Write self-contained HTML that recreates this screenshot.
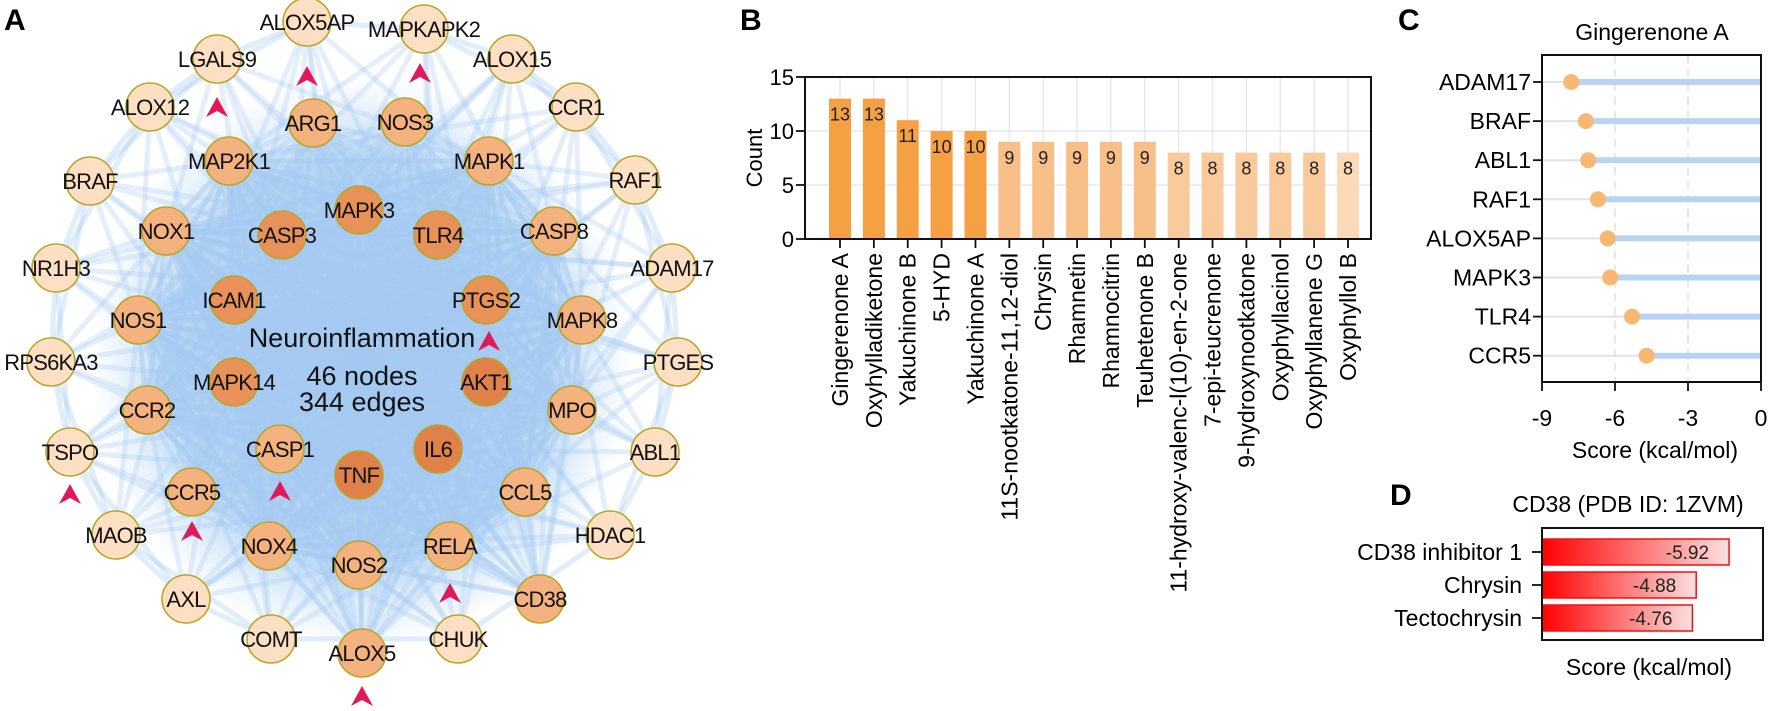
<!DOCTYPE html>
<html><head><meta charset="utf-8"><style>
body{margin:0;background:#fff}
svg{display:block;font-family:"Liberation Sans",Arial,sans-serif}
</style></head><body>
<svg id="fig" width="1772" height="711" viewBox="0 0 1772 711" xmlns="http://www.w3.org/2000/svg">
<defs>
<radialGradient id="blob" cx="50%" cy="50%" r="50%">
<stop offset="0%" stop-color="#a0c8f1" stop-opacity="1"/>
<stop offset="70%" stop-color="#abd0f3" stop-opacity="0.85"/>
<stop offset="100%" stop-color="#c2dcf6" stop-opacity="0"/>
</radialGradient>
<linearGradient id="redgrad" x1="0" x2="1" y1="0" y2="0">
<stop offset="0%" stop-color="#ff0000"/>
<stop offset="100%" stop-color="#fbe0e0"/>
</linearGradient>
</defs>
<g id="panelA">
<text x="4" y="30" font-size="30" font-weight="bold">A</text>
<ellipse cx="362" cy="362" rx="270" ry="285" fill="url(#blob)"/>
<g id="edges"></g>
<g id="nodes"></g>
<g id="arrows"></g>
<text x="362" y="347" font-size="27" text-anchor="middle" fill="#111">Neuroinflammation</text>
<text x="362" y="385" font-size="27" text-anchor="middle" fill="#111">46 nodes</text>
<text x="362" y="411" font-size="27" text-anchor="middle" fill="#111">344 edges</text>
</g>
<g id="panelB">
<text x="740" y="30" font-size="30" font-weight="bold">B</text>
<text transform="translate(762,158) rotate(-90)" font-size="22" text-anchor="middle">Count</text>
</g>
<g id="panelC">
<text x="1398" y="30" font-size="30" font-weight="bold">C</text>
<text x="1652" y="40" font-size="23" text-anchor="middle">Gingerenone A</text>
<text x="1655" y="458" font-size="23" text-anchor="middle">Score (kcal/mol)</text>
</g>
<g id="panelD">
<text x="1390" y="505" font-size="30" font-weight="bold">D</text>
<text x="1628" y="512" font-size="23" text-anchor="middle">CD38 (PDB ID: 1ZVM)</text>
<text x="1649" y="675" font-size="23" text-anchor="middle">Score (kcal/mol)</text>
</g>
</svg>
<script>
const NS="http://www.w3.org/2000/svg";
function mk(tag,attrs,parent,txt){const e=document.createElementNS(NS,tag);for(const k in attrs)e.setAttribute(k,attrs[k]);if(txt!==undefined)e.textContent=txt;parent.appendChild(e);return e;}

// ---------- Panel B data ----------
const compounds=["Gingerenone A","Oxyhylladiketone","Yakuchinone B","5-HYD","Yakuchinone A","11S-nootkatone-11,12-diol","Chrysin","Rhamnetin","Rhamnocitrin","Teuhetenone B","11-hydroxy-valenc-l(10)-en-2-one","7-epi-teucrenone","9-hydroxynootkatone","Oxyphyllacinol","Oxyphyllanene G","Oxyphyllol B"];
const counts=[13,13,11,10,10,9,9,9,9,9,8,8,8,8,8,8];
const countTicks=[0,5,10,15];

// ---------- Panel C data ----------
const targets=["ADAM17","BRAF","ABL1","RAF1","ALOX5AP","MAPK3","TLR4","CCR5"];
const scores=[-7.8,-7.2,-7.1,-6.7,-6.3,-6.2,-5.3,-4.7];
const scoreTicks=[-9,-6,-3,0];

// ---------- Panel D data ----------
const ligands=["CD38 inhibitor 1","Chrysin","Tectochrysin"];
const ligandScores=[-5.92,-4.88,-4.76];

// ---------- Network ----------
const nodeNames=["ALOX5AP","MAPKAPK2","LGALS9","ALOX15","ALOX12","ARG1","NOS3","CCR1","MAP2K1","MAPK1","BRAF","RAF1","NOX1","MAPK3","CASP3","TLR4","CASP8","NR1H3","ICAM1","PTGS2","ADAM17","NOS1","MAPK8","RPS6KA3","MAPK14","AKT1","PTGES","CCR2","MPO","CASP1","IL6","TNF","ABL1","TSPO","CCR5","CCL5","HDAC1","MAOB","NOX4","NOS2","RELA","CD38","AXL","COMT","ALOX5","CHUK"];
const nodeX=[307,424,217,512,150,313,405,576,229,489,90,635,166,359,282,438,554,56,234,486,672,138,582,51,234,486,678,147,572,280,438,359,655,70,192,525,610,116,269,359,450,540,186,271,362,458];
const nodeY=[22,29,59,59,107,123,122,107,161,161,181,180,231,210,235,235,231,268,300,300,268,320,320,362,382,382,362,410,410,449,449,475,452,452,492,492,535,535,546,565,546,599,599,639,653,639];
const nodeLevel=[0,0,0,0,0,1,1,0,1,1,0,0,1,2,2,2,1,0,2,2,0,1,1,0,2,3,0,1,1,1,3,3,0,0,1,1,0,0,1,1,1,1,0,0,1,0];
const hubs=[13,14,15,18,19,24,25,29,30,31,9,8,39,40,22,16,12,21,27,28,35,38];
const arrowX=[307,420,217,489,70,280,192,450,362];
const arrowY=[66,63,97,331,484,481,521,583,686];

const eg=document.getElementById('edges');
for(let i=0;i<nodeNames.length;i++){
  for(let h=0;h<hubs.length;h++){
    const j=hubs[h]; if(j===i) continue;
    if(nodeLevel[i]===0 && (i+h)%3!==0) continue;
    const l=mk('line',{x1:nodeX[i],y1:nodeY[i],x2:nodeX[j],y2:nodeY[j],stroke:'#a6cbf1','stroke-width':5,'stroke-opacity':0.3},eg);
    
    
  }
}
for(let i=0;i<nodeNames.length;i++){
  if(nodeLevel[i]!==0) continue;
  for(let k=i+1;k<nodeNames.length;k++){
    if(nodeLevel[k]!==0) continue;
    const d=Math.hypot(nodeX[i]-nodeX[k],nodeY[i]-nodeY[k]);
    if(d<200){const l=mk('line',{x1:nodeX[i],y1:nodeY[i],x2:nodeX[k],y2:nodeY[k],stroke:'#a6cbf1','stroke-width':5,'stroke-opacity':0.35},eg);
    
    }
  }
}
const fills=['#fddfc4','#f4b27f','#e8925a','#e0814a'];
const ng=document.getElementById('nodes');
for(let i=0;i<nodeNames.length;i++){
  const g=mk('g',{},ng);
  
  
  mk('circle',{cx:nodeX[i],cy:nodeY[i],r:24,fill:fills[nodeLevel[i]],stroke:'#b8a62a','stroke-width':1.6},g);
  mk('text',{x:nodeX[i],y:nodeY[i]+8,'font-size':22,'text-anchor':'middle',fill:'#111','letter-spacing':'-0.8'},g,nodeNames[i]);
}
const ag=document.getElementById('arrows');
for(let i=0;i<arrowX.length;i++){
  const x=arrowX[i],y=arrowY[i];
  const p=mk('path',{d:`M${x},${y} L${x+11},${y+20} L${x},${y+14} L${x-11},${y+20} Z`,fill:'#e0195a'},ag);
  
  
}

// ---------- Panel B draw ----------
(function(){
  const pg=document.getElementById('panelB');
  const L=805,R=1371,T=77,B=239,ymax=15,padL=35,padR=23;
  const y=v=>B-(v/ymax)*(B-T);
  const n=compounds.length;
  const step=(R-L-padL-padR)/(n-1);
  const x=i=>L+padL+step*i;
  for(const t of countTicks){
    if(t>0&&t<15){const g=mk('line',{x1:L,x2:R,y1:y(t),y2:y(t),stroke:'#e4e4ea','stroke-width':1.2},pg);}
    const tk=mk('line',{x1:L-9,x2:L,y1:y(t),y2:y(t),stroke:'#111','stroke-width':1.8},pg);
    
    
    const tl=mk('text',{x:L-11,y:y(t)+8,'font-size':22,'text-anchor':'end'},pg,String(t));
    
    
  }
  for(let i=0;i<n;i++){
    const gl=mk('line',{x1:x(i),x2:x(i),y1:T,y2:B,stroke:'#e4e4ea','stroke-width':1.2},pg);
    
    
  }
  for(let i=0;i<n;i++){
    const v=counts[i];
    const col=v>=10?'#f5a043':(v===9?'#f8c088':(i>=n-1?'#fbdab8':'#f9cb9c'));
    const r=mk('rect',{x:x(i)-11,y:y(v),width:22,height:B-y(v),fill:col},pg);
    
    
    const vl=mk('text',{x:x(i),y:y(v)+22,'font-size':18,'text-anchor':'middle',fill:'#222'},pg,String(v));
    
    
    const tk=mk('line',{x1:x(i),x2:x(i),y1:B,y2:B+9,stroke:'#111','stroke-width':1.8},pg);
    
    
    const lb=mk('text',{transform:`translate(${x(i)+8},${B+14}) rotate(-90)`,'font-size':23,'text-anchor':'end'},pg,compounds[i]);
    
    
  }
  const bx=mk('rect',{x:L,y:T,width:R-L,height:B-T,fill:'none',stroke:'#111','stroke-width':2},pg);
  
  
})();

// ---------- Panel C draw ----------
(function(){
  const pg=document.getElementById('panelC');
  const L=1542,R=1761,T=55,B=382;
  const x=v=>R+(v/9)*(R-L);
  const rowY=i=>82+i*39.1;
  for(const t of scoreTicks){
    if(t>-9&&t<0){const g=mk('line',{x1:x(t),x2:x(t),y1:T,y2:B,stroke:'#d8d8dd','stroke-width':1.2,'stroke-dasharray':'8 6'},pg);}
    const tk=mk('line',{x1:x(t),x2:x(t),y1:B,y2:B+9,stroke:'#111','stroke-width':1.8},pg);
    
    
    const tl=mk('text',{x:x(t),y:426,'font-size':23,'text-anchor':'middle'},pg,String(t));
    
    
  }
  for(let i=0;i<targets.length;i++){
    const yy=rowY(i),v=scores[i];
    const gl=mk('line',{x1:L,x2:x(v),y1:yy,y2:yy,stroke:'#e2e2e2','stroke-width':2},pg);
    
    
    const st=mk('line',{x1:x(v),x2:R,y1:yy,y2:yy,stroke:'#b9d4f3','stroke-width':6},pg);
    
    
    const c=mk('circle',{cx:x(v),cy:yy,r:8,fill:'#f6b872'},pg);
    
    
    const tk=mk('line',{x1:L-9,x2:L,y1:yy,y2:yy,stroke:'#111','stroke-width':1.8},pg);
    
    
    const lb=mk('text',{x:L-11,y:yy+8,'font-size':23,'text-anchor':'end'},pg,targets[i]);
    
    
  }
  const bx=mk('rect',{x:L,y:T,width:R-L,height:B-T,fill:'none',stroke:'#111','stroke-width':2},pg);
  
  
})();

// ---------- Panel D draw ----------
(function(){
  const pg=document.getElementById('panelD');
  const L=1542,R=1763,T=528,B=640;
  const x=v=>L+(-v)*31.6;
  for(let i=0;i<ligands.length;i++){
    const yc=552+i*33,v=ligandScores[i];
    const r=mk('rect',{x:L,y:yc-13,width:x(v)-L,height:26,fill:'url(#redgrad)',stroke:'#f01010','stroke-width':1.5},pg);
    
    
    const vl=mk('text',{x:x(v)-20,y:yc+7,'font-size':19,'text-anchor':'end',fill:'#222'},pg,v.toFixed(2));
    
    
    const tk=mk('line',{x1:L-10,x2:L,y1:yc,y2:yc,stroke:'#111','stroke-width':1.8},pg);
    
    
    const lb=mk('text',{x:L-20,y:yc+8,'font-size':23,'text-anchor':'end'},pg,ligands[i]);
    
    
  }
  const bx=mk('rect',{x:L,y:T,width:R-L,height:B-T,fill:'none',stroke:'#111','stroke-width':2},pg);
  
  
})();
</script>
</body></html>
